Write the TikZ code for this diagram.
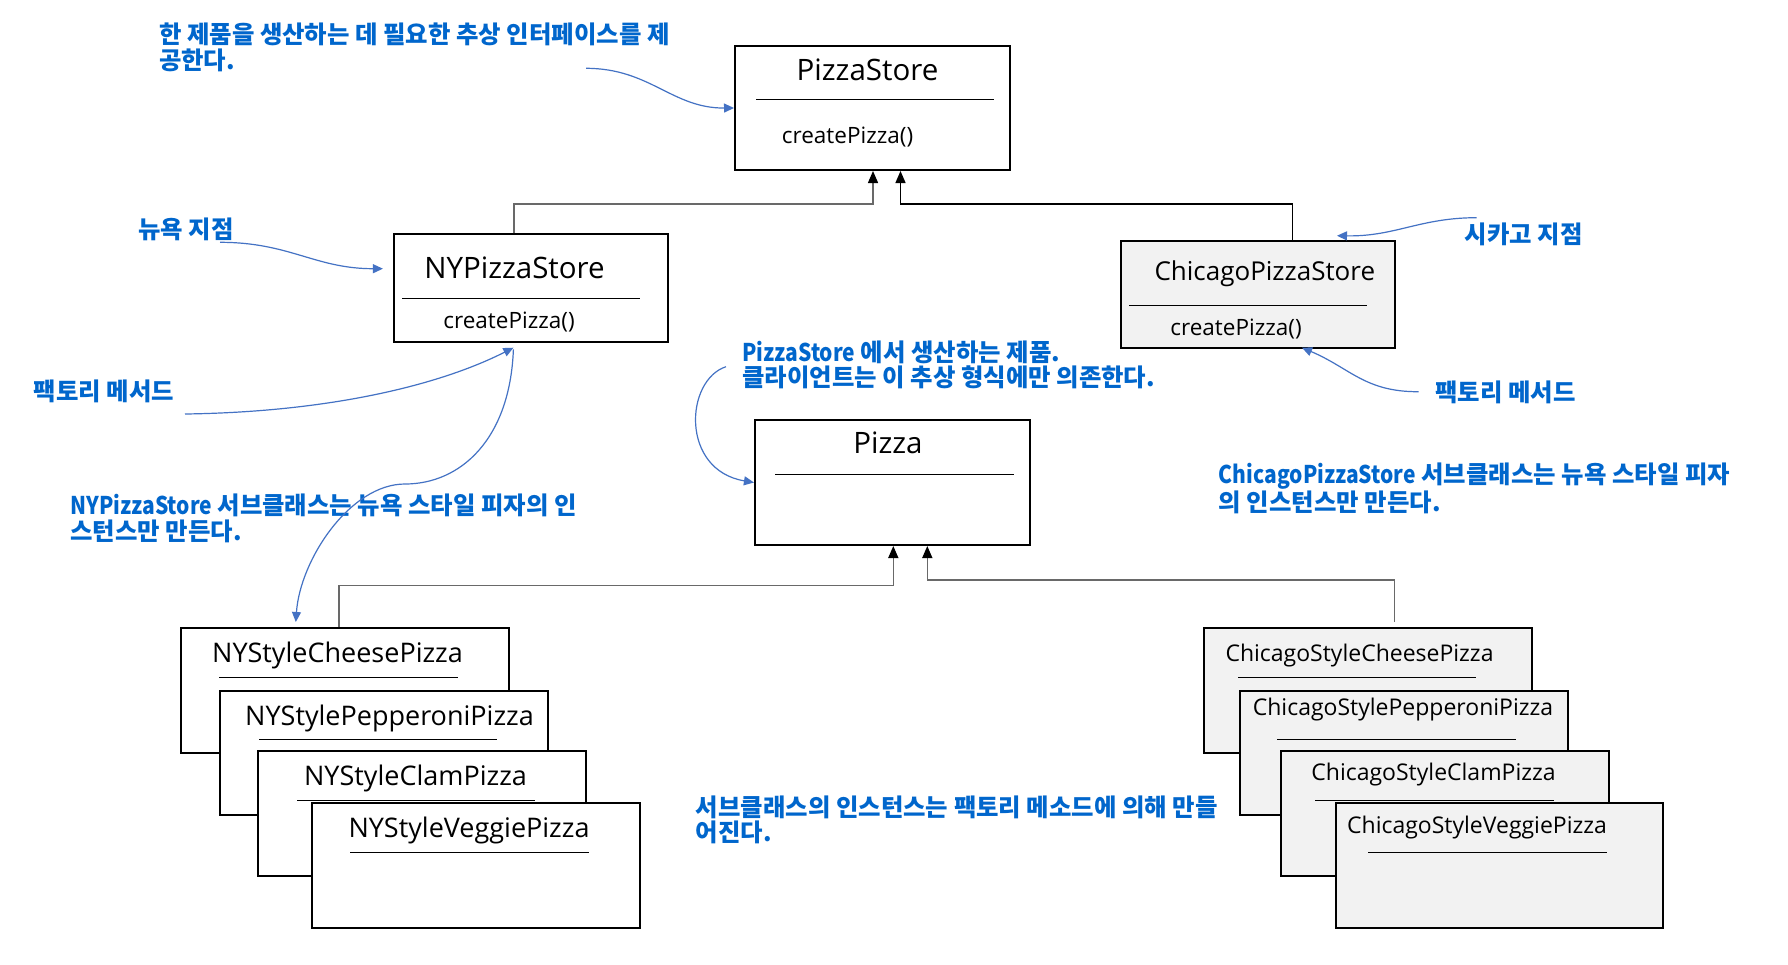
\documentclass[tikz,border=0pt]{standalone}
\usepackage{graphicx}
\usepackage{fontspec}
\setmainfont{Open Sans}
\newfontfamily\krfont{Noto Sans CJK KR}
\usetikzlibrary{calc,positioning,arrows.meta}
\definecolor{noteblue}{RGB}{0,102,204}
\definecolor{arrowblue}{RGB}{68,114,196}
\definecolor{boxgray}{RGB}{242,242,242}
\definecolor{linegray}{RGB}{105,105,105}
\newcommand\latn[1]{\scalebox{0.86}[1]{#1}}

\begin{document}
\begin{tikzpicture}[x=0.5pt,y=-0.5pt,
cls/.style 2 args={draw=black,line width=1pt,rectangle,inner sep=0pt,fill=white,minimum width=#1*0.5pt,minimum height=#2*0.5pt},
ttl/.style={anchor=base,inner sep=0pt,font=\fontsize{14.75pt}{17pt}\selectfont},
meth/.style={anchor=base west,inner sep=0pt,font=\fontsize{11.25pt}{13pt}\selectfont},
pz/.style={anchor=base,inner sep=0pt,font=\fontsize{13.5pt}{16pt}\selectfont},
cpz/.style={anchor=base,inner sep=0pt,font=\fontsize{11.5pt}{14pt}\selectfont},
rule/.style={line width=0.5pt},
note/.style={anchor=base west,align=left,inner sep=0pt,text=noteblue,font=\krfont\bfseries\fontsize{12.2pt}{12.75pt}\selectfont},
nt/.style={arrowblue,line width=0.6pt,-{Triangle[length=5pt,width=4.5pt]}},
inh/.style={line width=0.7pt,-{Triangle[length=6pt,width=5pt,color=black]}}]
\fill[white] (0,0) rectangle (1788,964);
\useasboundingbox (0,0) rectangle (1788,964);

% creator classes
\node[cls={275}{124}] (pstore) at (872.5,108) {};
\node[ttl] (pstoreT) at (867.5,80) {PizzaStore};
\draw[rule] (756,99.3) -- (994,99.3);
\node[meth] (pstoreM) at (781.5,143.3) {createPizza()};

\node[cls={274}{108}] (nystore) at (530.9,288.3) {};
\node[ttl] (nystoreT) at (514.5,278.3) {NYPizzaStore};
\draw[rule] (402,298.3) -- (640,298.3);
\node[meth] (nystoreM) at (443,328) {createPizza()};

\node[cls={274}{107},fill=boxgray] (chstore) at (1258,294.2) {};
\node[ttl,font=\fontsize{13pt}{15pt}\selectfont] (chstoreT) at (1264.8,280) {ChicagoPizzaStore};
\draw[rule] (1129,305) -- (1367,305);
\node[meth] (chstoreM) at (1170,335) {createPizza()};

% product classes
\node[cls={275.5}{125}] (pizza) at (892.7,482.5) {};
\node[ttl] (pizzaT) at (888,453.3) {Pizza};
\draw[rule] (775.4,474.3) -- (1014,474.3);

\node[cls={328.3}{125}] (nyCheese) at (344.8,690.5) {};
\node[pz] (nyCheeseT) at (337.5,662.7) {NYStyleCheesePizza};
\draw[rule] (219,677) -- (458,677);
\node[cls={328.3}{124.3}] (nyPep) at (383.8,752.8) {};
\node[pz] (nyPepT) at (389.5,725) {NYStylePepperoniPizza};
\draw[rule] (259,739) -- (497,739);
\node[cls={328.3}{125}] (nyClam) at (421.8,813.5) {};
\node[pz] (nyClamT) at (415.5,785) {NYStyleClamPizza};
\draw[rule] (297,800) -- (535,800);
\node[cls={328.3}{125}] (nyVeggie) at (475.8,865.2) {};
\node[pz] (nyVeggieT) at (469,837) {NYStyleVeggiePizza};
\draw[rule] (350,852) -- (589,852);

\node[cls={328}{125},fill=boxgray] (chCheese) at (1367.6,690.5) {};
\node[cpz] (chCheeseT) at (1359.5,661) {ChicagoStyleCheesePizza};
\draw[rule] (1238,677) -- (1476,677);
\node[cls={328}{124.3},fill=boxgray] (chPep) at (1403.6,752.8) {};
\node[cpz] (chPepT) at (1403,715) {ChicagoStylePepperoniPizza};
\draw[rule] (1277,739) -- (1516,739);
\node[cls={328}{125},fill=boxgray] (chClam) at (1444.6,813.3) {};
\node[cpz] (chClamT) at (1433.5,780) {ChicagoStyleClamPizza};
\draw[rule] (1315,800) -- (1554,800);
\node[cls={327.2}{125},fill=boxgray] (chVeggie) at (1499.4,865.2) {};
\node[cpz] (chVeggieT) at (1477,833) {ChicagoStyleVeggiePizza};
\draw[rule] (1368,852) -- (1606.5,852);

% inheritance
\draw[inh,draw=linegray] ($(nystore.north)+(-17,0)$) -- ++(0,-29.3) -| ($(pstore.south)+(0.5,0)$);
\draw[inh] ($(chstore.north)+(34.7,0)$) -- ++(0,-35.7) -| ($(pstore.south)+(28,0)$);
\draw[inh,draw=linegray] ($(nyCheese.north)+(-6,0)$) -- ++(0,-41.3) -| ($(pizza.south)+(0.6,0)$);
\draw[inh,draw=linegray] ($(chCheese.north)+(27,-5)$) -- ++(0,-42) -| ($(pizza.south)+(34.6,0)$);

% notes (multi-line nodes sit on their last line)
\node[note] (topNote) at (158.7,69) {한 제품을 생산하는 데 필요한 추상 인터페이스를 제\\공한다.};
\node[note] (nyNote) at (138,238) {뉴욕 지점};
\node[note] (nyFacNote) at (33.5,400) {팩토리 메서드};
\node[note] (nySubNote) at (70,540) {\latn{NYPizzaStore} 서브클래스는 뉴욕 스타일 피자의 인\\스턴스만 만든다.};
\node[note] (chNote) at (1464.5,243) {시카고 지점};
\node[note] (chFacNote) at (1434.8,401) {팩토리 메서드};
\node[note] (pzNote) at (742,386.7) {\latn{PizzaStore} 에서 생산하는 제품.\\클라이언트는 이 추상 형식에만 의존한다.};
\node[note] (chSubNote) at (1218.5,511.7) {\latn{ChicagoPizzaStore} 서브클래스는 뉴욕 스타일 피자\\의 인스턴스만 만든다.};
\node[note] (subNote) at (695.5,841.7) {서브클래스의 인스턴스는 팩토리 메소드에 의해 만들\\어진다.};

\coordinate (topTail) at (586,68.3);
\coordinate (nyTail) at (220,242.3);
\coordinate (nyFacTail) at (185,414);
\coordinate (chTail) at (1476.5,217.7);
\coordinate (chFacTail) at (1418.5,391.7);
\coordinate (pzTail) at (726,366.7);
\draw[nt] (topTail) .. controls (650,68.3) and (672,108.3) .. (pstore.west);
\draw[nt] (nyTail) .. controls (290,242.3) and (315,268.7) .. ($(nystore.west)+(-10,-19.6)$);
\draw[nt] (nyFacTail) .. controls (330,412) and (440,385) .. ($(nystore.south)+(-17.5,4.4)$);
\draw[nt] ($(nystore.south)+(-17.5,6)$) .. controls (510,440) and (460,484) .. (405,484) .. controls (350,484) and (300,560) .. ($(nyCheese.north)+(-49,-5)$);
\draw[nt] (chTail) .. controls (1420,217.7) and (1395,236.7) .. ($(chstore.north)+(79,-4)$);
\draw[nt] (chFacTail) .. controls (1365,392) and (1350,368) .. ($(chstore.south)+(44,-1)$);
\draw[nt] (pzTail) .. controls (685,380) and (680,470) .. (pizza.west);
\end{tikzpicture}
\end{document}
